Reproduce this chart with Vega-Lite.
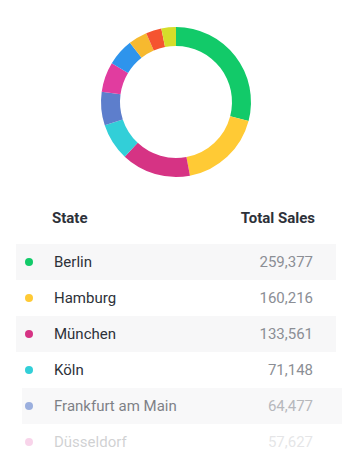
{
  "$schema": "https://vega.github.io/schema/vega-lite/v6.json",
  "padding": {"left": 16, "right": 16, "top": 0, "bottom": 0},
  "background": "white",
  "spacing": 0,
  "config": {"view": {"stroke": null}, "font": "Roboto", "concat": {"spacing": 0}},
  "datasets": {
    "sales": [
      {"rank": 1, "State": "Berlin", "Sales": 259377},
      {"rank": 2, "State": "Hamburg", "Sales": 160216},
      {"rank": 3, "State": "München", "Sales": 133561},
      {"rank": 4, "State": "Köln", "Sales": 71148},
      {"rank": 5, "State": "Frankfurt am Main", "Sales": 64477},
      {"rank": 6, "State": "Düsseldorf", "Sales": 57627},
      {"rank": 7, "State": "Stuttgart", "Sales": 52000},
      {"rank": 8, "State": "Leipzig", "Sales": 36000},
      {"rank": 9, "State": "Dortmund", "Sales": 30000},
      {"rank": 10, "State": "Essen", "Sales": 28000}
    ],
    "header": [
      {"label": "State"},
      {"label": "Total Sales"}
    ]
  },
  "vconcat": [
    {
      "width": 320,
      "height": 204,
      "data": {"name": "sales"},
      "mark": {"type": "arc", "innerRadius": 56, "outerRadius": 75},
      "encoding": {
        "theta": {"field": "Sales", "type": "quantitative", "stack": true},
        "order": {"field": "rank", "type": "quantitative", "sort": "ascending"},
        "color": {
          "field": "State", "type": "nominal", "legend": null,
          "scale": {
            "domain": ["Berlin", "Hamburg", "München", "Köln", "Frankfurt am Main", "Düsseldorf", "Stuttgart", "Leipzig", "Dortmund", "Essen"],
            "range": ["#12ca69", "#ffca35", "#d63384", "#32cfd8", "#5d7ecc", "#e13c9f", "#2e94ec", "#f6b92f", "#f55430", "#d5dd2a"]
          }
        }
      }
    },
    {
      "width": 320,
      "height": 40,
      "data": {"name": "header"},
      "layer": [
        {
          "transform": [{"filter": "datum.label === 'State'"}],
          "mark": {"type": "text", "align": "left", "baseline": "middle", "dy": -6, "fontSize": 15, "fontWeight": "bold", "color": "#2d3139"},
          "encoding": {
            "x": {"datum": 36, "type": "quantitative", "axis": null, "scale": {"domain": [0, 320], "nice": false, "zero": false}},
            "text": {"field": "label"}
          }
        },
        {
          "transform": [{"filter": "datum.label === 'Total Sales'"}],
          "mark": {"type": "text", "align": "right", "baseline": "middle", "dy": -6, "fontSize": 15, "fontWeight": "bold", "color": "#2d3139"},
          "encoding": {
            "x": {"datum": 299, "type": "quantitative", "axis": null, "scale": {"domain": [0, 320], "nice": false, "zero": false}},
            "text": {"field": "label"}
          }
        }
      ]
    },
    {
      "width": 320,
      "height": {"step": 36},
      "data": {"name": "sales"},
      "transform": [{"filter": "datum.rank <= 6"}],
      "encoding": {
        "y": {"field": "rank", "type": "ordinal", "axis": null, "scale": {"paddingInner": 0, "paddingOuter": 0}},
        "opacity": {
          "condition": [
            {"test": "datum.rank === 5", "value": 0.6},
            {"test": "datum.rank === 6", "value": 0.22}
          ],
          "value": 1
        }
      },
      "layer": [
        {
          "transform": [{"filter": "datum.rank === 1 || datum.rank === 3"}],
          "mark": {"type": "rect", "color": "#f7f7f8"},
          "encoding": {
            "x": {"datum": 0, "type": "quantitative", "axis": null, "scale": {"domain": [0, 320], "nice": false, "zero": false}},
            "x2": {"datum": 320}
          }
        },
        {
          "transform": [{"filter": "datum.rank === 5"}],
          "mark": {"type": "rect", "color": "#f4f4f5", "clip": false},
          "encoding": {
            "x": {"datum": 6, "type": "quantitative", "axis": null, "scale": {"domain": [0, 320], "nice": false, "zero": false}},
            "x2": {"datum": 326}
          }
        },
        {
          "mark": {"type": "circle", "size": 64},
          "encoding": {
            "x": {"datum": 13, "type": "quantitative", "axis": null, "scale": {"domain": [0, 320], "nice": false, "zero": false}},
            "color": {
              "field": "State", "type": "nominal", "legend": null,
              "scale": {
                "domain": ["Berlin", "Hamburg", "München", "Köln", "Frankfurt am Main", "Düsseldorf", "Stuttgart", "Leipzig", "Dortmund", "Essen"],
                "range": ["#12ca69", "#ffca35", "#d63384", "#32cfd8", "#5d7ecc", "#e13c9f", "#2e94ec", "#f6b92f", "#f55430", "#d5dd2a"]
              }
            }
          }
        },
        {
          "mark": {"type": "text", "align": "left", "baseline": "middle", "fontSize": 15, "color": "#2d3139"},
          "encoding": {
            "x": {"datum": 38, "type": "quantitative", "axis": null, "scale": {"domain": [0, 320], "nice": false, "zero": false}},
            "text": {"field": "State"}
          }
        },
        {
          "mark": {"type": "text", "align": "right", "baseline": "middle", "fontSize": 15, "color": "#8b8e95"},
          "encoding": {
            "x": {"datum": 297, "type": "quantitative", "axis": null, "scale": {"domain": [0, 320], "nice": false, "zero": false}},
            "text": {"field": "Sales", "format": ","}
          }
        }
      ]
    }
  ]
}
